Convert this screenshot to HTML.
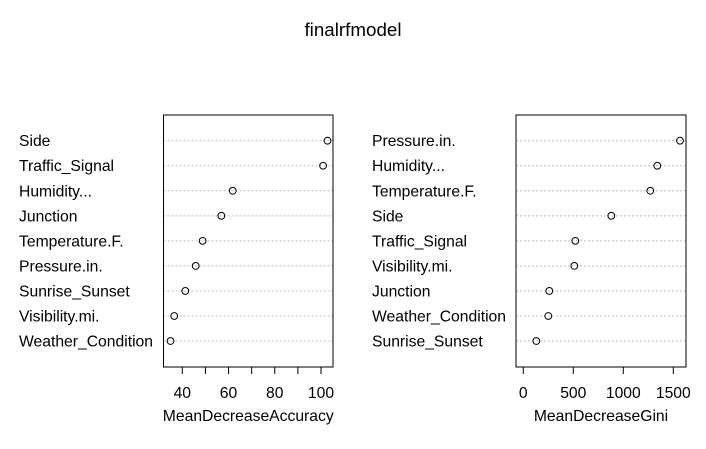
<!DOCTYPE html>
<html><head><meta charset="utf-8"><style>
body{margin:0;background:#fff}
svg text{font-family:"Liberation Sans",Arial,sans-serif;fill:#000}
</style></head><body>
<svg id="c" width="706" height="444" xmlns="http://www.w3.org/2000/svg">
<rect width="706" height="444" fill="#fff"/>
<text x="353" y="36" font-size="18.8" text-anchor="middle">finalrfmodel</text>
</svg>
<script>
const accLabels=["Side","Traffic_Signal","Humidity...","Junction","Temperature.F.","Pressure.in.","Sunrise_Sunset","Visibility.mi.","Weather_Condition"];
const accValues=[102.8,100.9,61.8,56.9,48.8,45.8,41.3,36.5,34.9];
const accTicks=[40,50,60,70,80,90,100];
const accTickLabels=["40","","60","","80","","100"];
const giniLabels=["Pressure.in.","Humidity...","Temperature.F.","Side","Traffic_Signal","Visibility.mi.","Junction","Weather_Condition","Sunrise_Sunset"];
const giniValues=[1567,1340,1270,880,520,510,260,250,130];
const giniTicks=[0,500,1000,1500];
const giniTickLabels=["0","500","1000","1500"];
const NS="http://www.w3.org/2000/svg";
const svg=document.getElementById('c');
function mk(t,a,parent){const e=document.createElementNS(NS,t);for(const k in a)e.setAttribute(k,a[k]);(parent||svg).appendChild(e);return e;}
function panel(name,labels,values,ticks,tickLabels,x0,x1,v0,px0,v1,px1,labelX,title){
  const g=mk('g',{});
  
  
  const sx=v=>px0+(v-v0)*(px1-px0)/(v1-v0);
  const top=115,bot=367,r0=140.7,step=25.04;
  labels.forEach((l,i)=>{
    const y=r0+i*step;
    const ln=mk('line',{x1:x0,x2:x1,y1:y,y2:y,stroke:'#bebebe','stroke-dasharray':'2,2','stroke-width':1},g);
    
    
    const t=mk('text',{x:labelX,y:y+5.5,'font-size':15.7},g);t.textContent=l;
    
    
    const c=mk('circle',{cx:sx(values[i]),cy:y,r:3.4,fill:'none',stroke:'#000','stroke-width':1},g);
    
    
  });
  const b=mk('rect',{x:x0,y:top,width:x1-x0,height:bot-top,fill:'none',stroke:'#000','stroke-width':1},g);
  
  
  ticks.forEach((v,i)=>{
    const x=sx(v);
    const tk=mk('line',{x1:x,x2:x,y1:bot,y2:bot+7,stroke:'#000'},g);
    
    
    if(tickLabels[i]){const t=mk('text',{x:x,y:398,'font-size':15.7,'text-anchor':'middle'},g);t.textContent=tickLabels[i];
    
    }
  });
  const at=mk('text',{x:(x0+x1)/2,y:421,'font-size':15.7,'text-anchor':'middle'},g);at.textContent=title;
  
  
}
panel('accuracy',accLabels,accValues,accTicks,accTickLabels,163.5,333,40,182.3,100,321,19,'MeanDecreaseAccuracy');
panel('gini',giniLabels,giniValues,giniTicks,giniTickLabels,516,686,0,523.3,1500,673.3,372,'MeanDecreaseGini');
</script>
</body></html>
